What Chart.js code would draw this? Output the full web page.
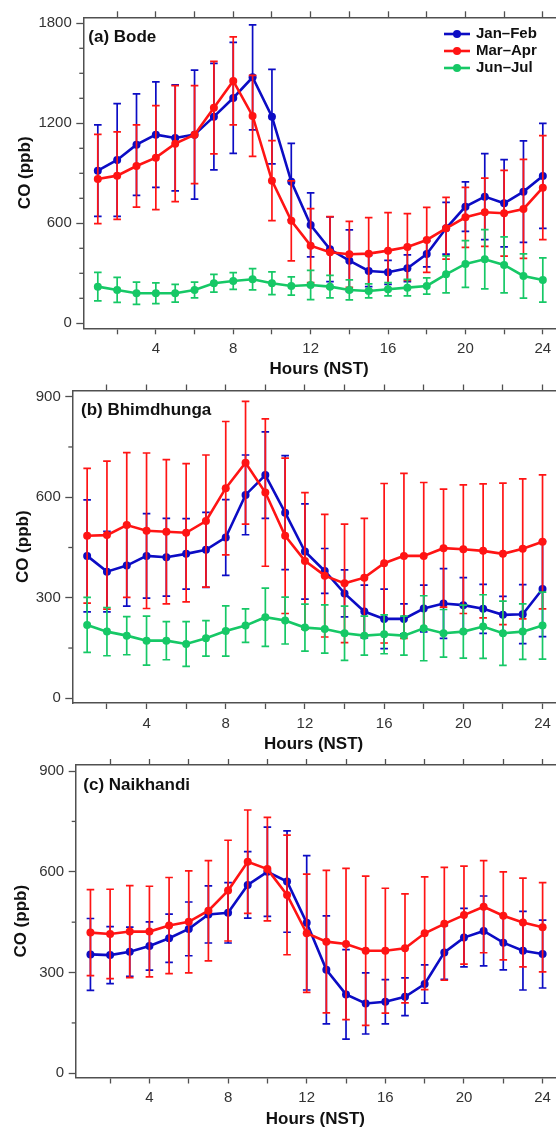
<!DOCTYPE html>
<html><head><meta charset="utf-8">
<script src="https://cdn.jsdelivr.net/npm/chart.js@4.4.1/dist/chart.umd.min.js"></script>
<style>
html,body{margin:0;padding:0;background:#fff;overflow:hidden;width:559px;height:1130px}
canvas{position:absolute;left:0}
</style></head><body>
<canvas id="ca" width="559" height="380" style="top:0px"></canvas>
<canvas id="cb" width="559" height="377" style="top:380px"></canvas>
<canvas id="cc" width="559" height="373" style="top:757px"></canvas>
<script>
// ---- data ----
const hours = [1,2,3,4,5,6,7,8,9,10,11,12,13,14,15,16,17,18,19,20,21,22,23,24];
const xTickValues = [2,4,6,8,10,12,14,16,18,20,22,24];
const seriesLabels = ['Jan\u2013Feb','Mar\u2013Apr','Jun\u2013Jul'];
const seriesColors = ['#0c0cc4','#ff1414','#16c866'];

const bodeJanFeb    = [916,980,1072,1132,1112,1132,1240,1352,1476,1240,850,590,444,376,314,306,330,416,570,700,760,720,790,884];
const bodeJanFebErr = [275,338,305,317,318,387,320,333,315,284,230,192,194,184,94,72,80,78,155,148,258,262,305,315];
const bodeMarApr    = [866,886,944,994,1078,1132,1294,1454,1244,856,615,466,426,414,418,436,458,500,570,636,666,660,686,814];
const bodeMarAprErr = [268,263,247,312,348,294,277,264,243,240,240,222,214,198,216,228,200,195,185,180,205,257,297,312];
const bodeJunJul    = [220,200,180,180,180,200,240,254,264,240,224,230,220,200,194,204,214,224,294,356,384,350,284,260];
const bodeJunJulErr = [85,75,67,62,53,47,53,50,64,68,55,88,67,60,42,40,50,49,111,140,178,168,133,133];

const bhimJanFeb    = [425,378,396,425,421,431,443,480,607,666,554,438,380,313,259,237,237,268,283,278,267,249,251,326];
const bhimJanFebErr = [167,120,121,126,116,105,112,113,119,129,170,142,67,70,79,89,45,70,104,82,73,55,88,142];
const bhimMarApr    = [485,487,517,500,497,494,529,627,703,614,485,410,366,343,360,403,425,425,448,445,440,431,446,467];
const bhimMarAprErr = [201,221,216,232,215,206,197,199,183,220,232,204,183,177,177,238,246,219,176,192,200,211,209,200];
const bhimJunJul    = [219,199,187,172,172,162,179,201,217,242,232,211,207,194,187,191,187,209,194,199,214,194,199,217];
const bhimJunJulErr = [82,72,57,73,57,67,53,75,50,87,70,70,72,81,58,58,58,97,71,79,95,96,83,100];

const naikJanFeb    = [354,352,362,379,402,430,473,478,561,600,571,448,308,235,208,213,228,266,360,404,424,389,365,355];
const naikJanFebErr = [107,85,73,72,72,80,85,90,99,133,151,200,161,133,91,66,56,57,80,87,104,81,117,101];
const naikMarApr    = [419,415,422,422,440,451,484,544,630,608,531,417,392,385,365,365,372,417,445,471,496,469,449,435];
const naikMarAprErr = [128,133,137,135,143,152,149,150,154,154,178,176,212,225,222,186,162,168,168,146,137,131,132,133];

const bodeYTicks = [0,600,1200,1800];
const bodeYMinor = [150,300,450,750,900,1050,1350,1500,1650];
const otherYTicks = [0,300,600,900];
const otherYMinor = [150,450,750];

// ---- styling ----
const FAM = "'Liberation Sans', Arial, Helvetica, sans-serif";
const AXIS = '#505050';
const TICK = '#333333';

const errorBars = {
  id: 'errorBars',
  beforeDatasetDraw(chart, args) {
    const ds = chart.data.datasets[args.index];
    if (!ds.errors) return;
    const xs = chart.scales.x, ys = chart.scales.y, ctx = chart.ctx, ca = chart.chartArea;
    ctx.save();
    ctx.beginPath(); ctx.rect(ca.left, ca.top, ca.right - ca.left, ca.bottom - ca.top); ctx.clip();
    ctx.strokeStyle = ds.borderColor; ctx.lineWidth = 1.7;
    ds.data.forEach((p, i) => {
      const e = ds.errors[i];
      const x = xs.getPixelForValue(p.x);
      const yt = ys.getPixelForValue(p.y + e), yb = ys.getPixelForValue(p.y - e);
      ctx.beginPath();
      ctx.moveTo(x, yt); ctx.lineTo(x, yb);
      ctx.moveTo(x - 3.8, yt); ctx.lineTo(x + 3.8, yt);
      ctx.moveTo(x - 3.8, yb); ctx.lineTo(x + 3.8, yb);
      ctx.stroke();
    });
    ctx.restore();
  }
};

const decor = {
  id: 'decor',
  afterDraw(chart, args, o) {
    const ctx = chart.ctx, ys = chart.scales.y, ca = chart.chartArea;
    ctx.save();
    // minor y ticks
    ctx.strokeStyle = AXIS; ctx.lineWidth = 1.3;
    (o.minorY || []).forEach(v => {
      const y = ys.getPixelForValue(v);
      ctx.beginPath(); ctx.moveTo(ca.left - 4, y); ctx.lineTo(ca.left, y); ctx.stroke();
    });
    // panel label
    ctx.fillStyle = '#111';
    ctx.font = "bold 17px " + FAM;
    ctx.textBaseline = 'middle'; ctx.textAlign = 'left';
    ctx.fillText(o.panelLabel, o.labelX, o.labelY);
    // legend
    if (o.legend) {
      const L = o.legend;
      chart.data.datasets.forEach((ds, i) => {
        const y = L.y + i * L.dy;
        ctx.strokeStyle = ds.borderColor; ctx.lineWidth = 2.6;
        ctx.beginPath(); ctx.moveTo(L.x0, y); ctx.lineTo(L.x1, y); ctx.stroke();
        ctx.fillStyle = ds.borderColor;
        ctx.beginPath(); ctx.arc((L.x0 + L.x1) / 2, y, 4, 0, Math.PI * 2); ctx.fill();
        ctx.fillStyle = '#111';
        ctx.font = "bold 15px " + FAM;
        ctx.fillText(ds.label, L.tx, y);
      });
    }
    ctx.restore();
  }
};

function makeSeries(vals, errs, idx) {
  return {
    label: seriesLabels[idx],
    data: hours.map((h, i) => ({x: h, y: vals[i]})),
    errors: errs,
    borderColor: seriesColors[idx],
    backgroundColor: seriesColors[idx],
    pointBackgroundColor: seriesColors[idx],
    pointBorderWidth: 0,
    pointRadius: 4,
    pointHoverRadius: 4,
    borderWidth: 2.6,
    tension: 0,
    fill: false,
    order: 3 - idx
  };
}

function makePanel(id, c) {
  const xCommon = {
    type: 'linear', min: 0.25, max: 24.63,
    afterBuildTicks: s => { s.ticks = xTickValues.map(v => ({value: v})); },
    grid: {drawOnChartArea: false, drawTicks: true, tickLength: 6, tickColor: AXIS, tickWidth: 1.3},
    border: {display: true, color: AXIS, width: 1.5}
  };
  new Chart(document.getElementById(id), {
    type: 'line',
    data: {datasets: c.datasets},
    options: {
      responsive: false, animation: false, devicePixelRatio: 1,
      layout: {padding: 0},
      events: [],
      plugins: {
        legend: {display: false}, tooltip: {enabled: false},
        decor: {panelLabel: c.panelLabel, labelX: c.labelX, labelY: c.labelY, minorY: c.minorY, legend: c.legend}
      },
      scales: {
        x: Object.assign({}, xCommon, {
          position: 'bottom',
          afterFit: s => { s.height = c.bottomH; s.paddingLeft = 0; s.paddingRight = 0; },
          ticks: {autoSkip: false, maxRotation: 0, padding: 5.5, color: TICK,
                  font: {family: FAM, size: 15},
                  callback: v => (v % 4 === 0 ? String(v) : '')},
          title: {display: true, text: 'Hours (NST)', color: '#111',
                  font: {family: FAM, size: 17, weight: 'bold'},
                  padding: {top: 0, bottom: c.xTitlePad}}
        }),
        x2: Object.assign({}, xCommon, {
          position: 'top',
          afterFit: s => { s.height = c.topH; s.paddingLeft = 0; s.paddingRight = 0; },
          ticks: {display: false}
        }),
        y: {
          type: 'linear', position: 'left', min: c.yMin, max: c.yMax,
          afterBuildTicks: s => { s.ticks = c.majorY.map(v => ({value: v})); },
          afterFit: s => { s.width = c.leftW; s.paddingTop = 0; s.paddingBottom = 0; },
          ticks: {padding: 4.5, color: TICK, font: {family: FAM, size: 15}, callback: v => String(v)},
          grid: {drawOnChartArea: false, drawTicks: true, tickLength: 7, tickColor: AXIS, tickWidth: 1.3},
          border: {display: true, color: AXIS, width: 1.5},
          title: {display: true, text: 'CO (ppb)', color: '#111',
                  font: {family: FAM, size: 17, weight: 'bold'},
                  padding: {top: c.yTitlePad, bottom: 0}}
        }
      }
    },
    plugins: [errorBars, decor]
  });
}

makePanel('ca', {
  datasets: [makeSeries(bodeJanFeb, bodeJanFebErr, 0), makeSeries(bodeMarApr, bodeMarAprErr, 1), makeSeries(bodeJunJul, bodeJunJulErr, 2)],
  yMin: -30, yMax: 1836, majorY: bodeYTicks, minorY: bodeYMinor,
  leftW: 83.3, topH: 17.3, bottomH: 380 - 328.3, xTitlePad: 0, yTitlePad: 14.9,
  panelLabel: '(a) Bode', labelX: 88.3, labelY: 37.3,
  legend: {x0: 444, x1: 470, tx: 476, y: 34, dy: 17}
});
makePanel('cb', {
  datasets: [makeSeries(bhimJanFeb, bhimJanFebErr, 0), makeSeries(bhimMarApr, bhimMarAprErr, 1), makeSeries(bhimJunJul, bhimJunJulErr, 2)],
  yMin: -14, yMax: 918.5, majorY: otherYTicks, minorY: otherYMinor,
  leftW: 72.3, topH: 10.5, bottomH: 377 - 323, xTitlePad: 2.8, yTitlePad: 12.9,
  panelLabel: '(b) Bhimdhunga', labelX: 81, labelY: 30
});
makePanel('cc', {
  datasets: [makeSeries(naikJanFeb, naikJanFebErr, 0), makeSeries(naikMarApr, naikMarAprErr, 1)],
  yMin: -12.5, yMax: 918, majorY: otherYTicks, minorY: otherYMinor,
  leftW: 75.7, topH: 8, bottomH: 373 - 320.5, xTitlePad: 0, yTitlePad: 10.9,
  panelLabel: '(c) Naikhandi', labelX: 83.3, labelY: 28
});
</script>
</body></html>
